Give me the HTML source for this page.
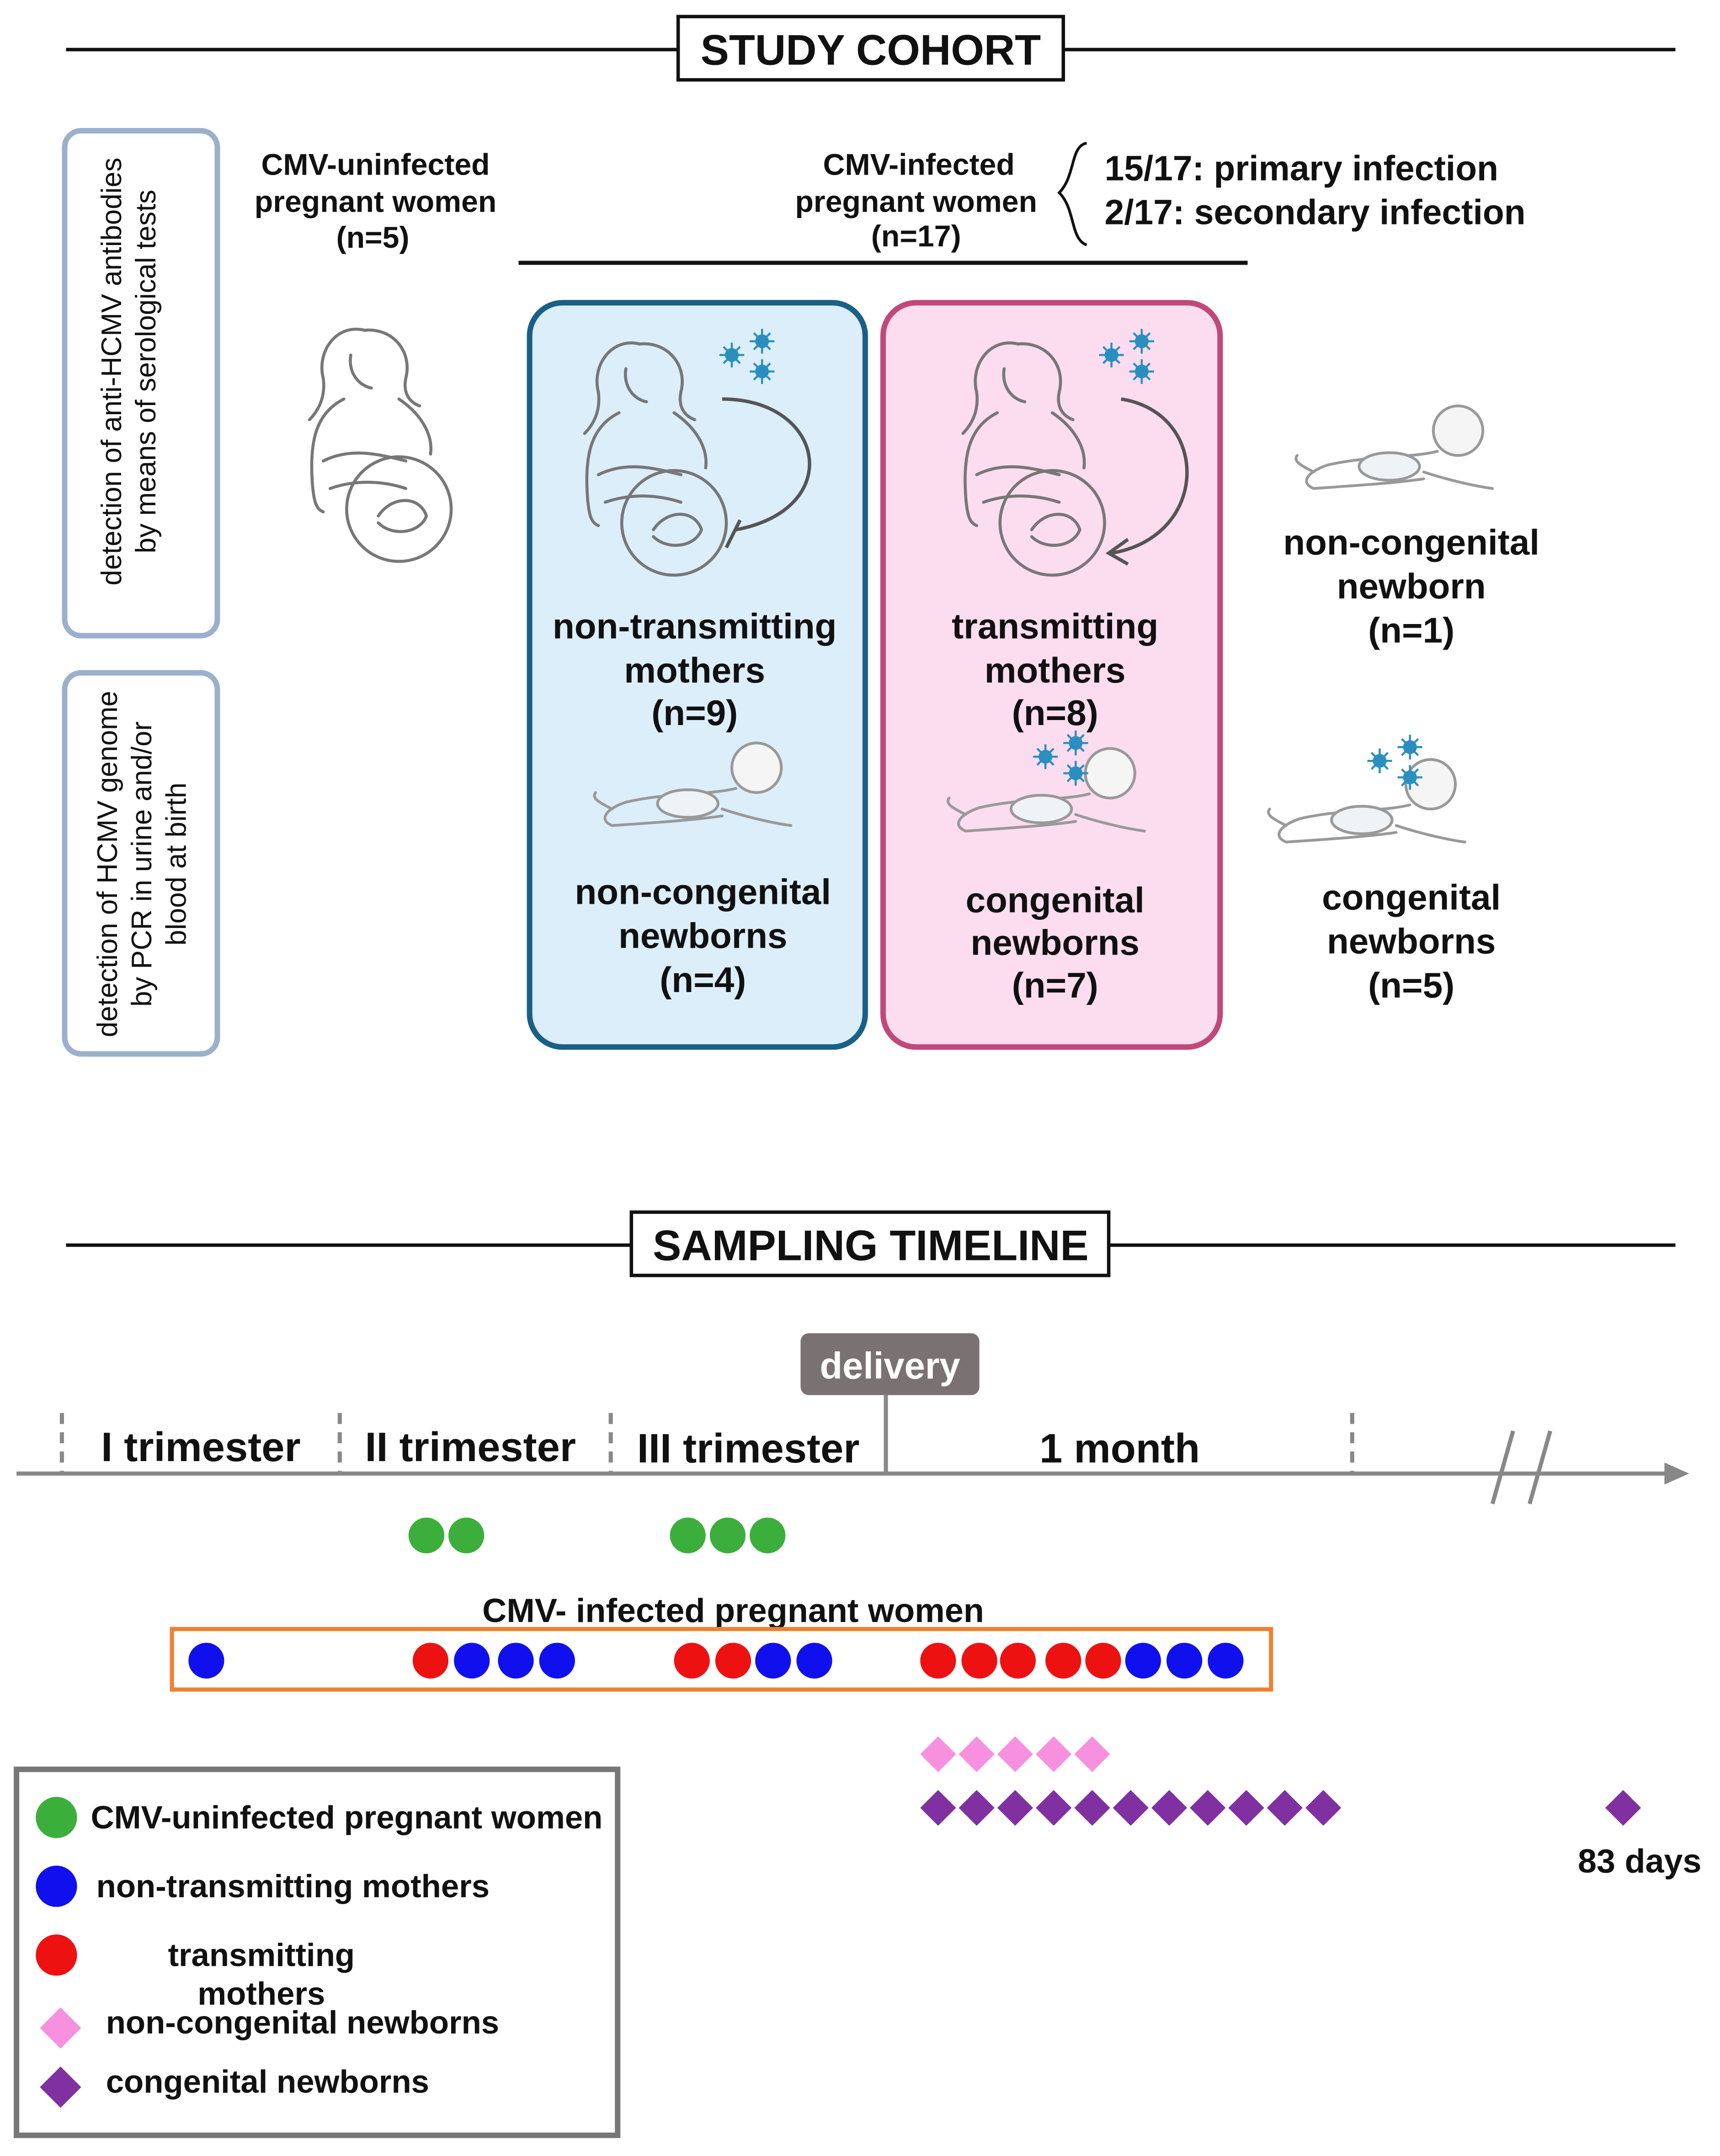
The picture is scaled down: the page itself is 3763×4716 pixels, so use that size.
<!DOCTYPE html>
<html><head><meta charset="utf-8"><style>
html,body{margin:0;padding:0;background:#fff;}
svg{display:block;}
text{font-family:"Liberation Sans",Arial,sans-serif;font-weight:bold;fill:#111;}
</style></head><body>
<svg width="3763" height="4716" viewBox="0 0 1250.4 1567" xmlns="http://www.w3.org/2000/svg">
<defs>
<g id="woman" fill="none" stroke="#777" stroke-width="2.2" stroke-linecap="round">
  <path d="M-10,-80 C-30,-85 -45,-65 -40,-45 C-38,-30 -45,-20 -50,-15"/>
  <path d="M-10,-80 C10,-82 25,-65 20,-45 C18,-35 22,-28 30,-25"/>
  <path d="M-20,-62 C-22,-50 -15,-40 -5,-38"/>
  <path d="M-25,-30 C-45,-20 -50,0 -48,30 C-47,45 -45,50 -40,52"/>
  <path d="M15,-30 C30,-20 40,-5 38,10"/>
  <circle cx="15" cy="50" r="38"/>
  <path d="M0,55 C10,40 30,40 35,55 C30,68 10,70 0,60"/>
  <path d="M-40,15 C-20,5 0,10 20,15"/>
  <path d="M-35,35 C-15,28 5,30 20,35"/>
</g>
<g id="baby" fill="none" stroke="#999" stroke-width="2" stroke-linecap="round">
  <circle cx="45" cy="-30" r="18" fill="#f5f5f5"/>
  <path d="M30,-15 C10,-10 -20,-12 -50,-5 C-65,0 -70,8 -60,12 C-30,10 0,8 20,5"/>
  <path d="M20,0 C35,5 55,10 70,12"/>
  <ellipse cx="-5" cy="-4" rx="22" ry="10" fill="#eef3f8"/>
  <path d="M-60,0 C-70,-5 -75,-8 -72,-12"/>
</g>
<g id="virus" fill="#2a8fc0">
  <circle r="5"/><g stroke="#2a8fc0" stroke-width="1.5"><line x1="-9" y1="0" x2="9" y2="0"/><line x1="0" y1="-9" x2="0" y2="9"/><line x1="-6" y1="-6" x2="6" y2="6"/><line x1="-6" y1="6" x2="6" y2="-6"/></g>
</g>
<g id="virus3"><use href="#virus" x="0" y="0"/><use href="#virus" x="22" y="-10"/><use href="#virus" x="22" y="12"/></g>
</defs>

<line x1="48" y1="36" x2="1218" y2="36" stroke="#111" stroke-width="2.5"/>
<rect x="493" y="12" width="280" height="46" fill="#fff" stroke="#111" stroke-width="2.5"/>
<text x="633" y="47" font-size="31" text-anchor="middle">STUDY COHORT</text>

<rect x="47" y="95" width="111" height="367" rx="12" fill="#fff" stroke="#9bb0cc" stroke-width="4"/>
<text transform="translate(88,270) rotate(-90)" font-size="20.5" style="font-weight:normal" text-anchor="middle">detection of anti-HCMV antibodies</text>
<text transform="translate(113,270) rotate(-90)" font-size="20.5" style="font-weight:normal" text-anchor="middle">by means of serological tests</text>
<rect x="47" y="489" width="111" height="277" rx="12" fill="#fff" stroke="#9bb0cc" stroke-width="4"/>
<text transform="translate(85,628) rotate(-90)" font-size="20.5" style="font-weight:normal" text-anchor="middle">detection of HCMV genome</text>
<text transform="translate(110,628) rotate(-90)" font-size="20.5" style="font-weight:normal" text-anchor="middle">by PCR in urine and/or</text>
<text transform="translate(135,628) rotate(-90)" font-size="20.5" style="font-weight:normal" text-anchor="middle">blood at birth</text>

<g font-size="22" text-anchor="middle">
<text x="273" y="127">CMV-uninfected</text>
<text x="273" y="154">pregnant women</text>
<text x="271" y="180">(n=5)</text>
<text x="668" y="127">CMV-infected</text>
<text x="666" y="154">pregnant women</text>
<text x="666" y="179">(n=17)</text>
</g>
<use href="#woman" x="275" y="320"/>
<path d="M790,104 C778,106 782,128 770,140 C782,152 778,174 790,178" fill="none" stroke="#111" stroke-width="2"/>
<text x="803" y="131" font-size="25.5">15/17: primary infection</text>
<text x="803" y="163" font-size="25.5">2/17: secondary infection</text>
<line x1="377" y1="191" x2="907" y2="191" stroke="#111" stroke-width="3"/>

<rect x="385" y="220" width="244" height="541" rx="24" fill="#dbeefa" stroke="#1a5f86" stroke-width="4"/>
<use href="#woman" x="475" y="330"/>
<use href="#virus3" x="532" y="258"/>
<path d="M525,290 C600,290 615,370 535,385" fill="none" stroke="#555" stroke-width="2.5"/>
<line x1="538" y1="378" x2="528" y2="398" stroke="#555" stroke-width="2.5"/>
<g font-size="26" text-anchor="middle">
<text x="505" y="464">non-transmitting</text>
<text x="505" y="496">mothers</text>
<text x="505" y="527">(n=9)</text>
<text x="511" y="657">non-congenital</text>
<text x="511" y="689">newborns</text>
<text x="511" y="721">(n=4)</text>
</g>
<use href="#baby" x="505" y="588"/>

<rect x="642" y="220" width="245" height="541" rx="24" fill="#fcdcef" stroke="#c0487a" stroke-width="4"/>
<use href="#woman" x="750" y="330"/>
<use href="#virus3" x="808" y="258"/>
<path d="M815,290 C880,300 880,390 808,402" fill="none" stroke="#555" stroke-width="2.5"/>
<path d="M820,392 L806,402 L820,410" fill="none" stroke="#555" stroke-width="2.5"/>
<g font-size="26" text-anchor="middle">
<text x="767" y="464">transmitting</text>
<text x="767" y="496">mothers</text>
<text x="767" y="527">(n=8)</text>
<text x="767" y="663">congenital</text>
<text x="767" y="694">newborns</text>
<text x="767" y="725">(n=7)</text>
</g>
<use href="#baby" x="762" y="592"/>
<use href="#virus3" x="760" y="550"/>

<use href="#baby" x="1015" y="343"/>
<use href="#baby" x="995" y="600"/>
<use href="#virus3" x="1003" y="553"/>
<g font-size="26" text-anchor="middle">
<text x="1026" y="403">non-congenital</text>
<text x="1026" y="435">newborn</text>
<text x="1026" y="467">(n=1)</text>
<text x="1026" y="661">congenital</text>
<text x="1026" y="693">newborns</text>
<text x="1026" y="725">(n=5)</text>
</g>

<line x1="48" y1="905" x2="1218" y2="905" stroke="#111" stroke-width="2.5"/>
<rect x="459" y="881" width="347" height="46" fill="#fff" stroke="#111" stroke-width="2.5"/>
<text x="633" y="916" font-size="31" text-anchor="middle">SAMPLING TIMELINE</text>

<rect x="582" y="969" width="130" height="45" rx="6" fill="#7a7272"/>
<text x="647" y="1002" font-size="27" text-anchor="middle" style="fill:#fff">delivery</text>
<line x1="644" y1="1014" x2="644" y2="1070" stroke="#888" stroke-width="3"/>

<line x1="12" y1="1071" x2="1215" y2="1071" stroke="#888" stroke-width="3"/>
<polygon points="1228,1071 1210,1063 1210,1079" fill="#888"/>
<g stroke="#888" stroke-width="3" stroke-dasharray="8,6">
<line x1="45" y1="1027" x2="45" y2="1070"/>
<line x1="247" y1="1027" x2="247" y2="1070"/>
<line x1="444" y1="1027" x2="444" y2="1070"/>
<line x1="983" y1="1027" x2="983" y2="1070"/>
</g>
<g stroke="#888" stroke-width="3"><line x1="1085" y1="1093" x2="1100" y2="1040"/><line x1="1112" y1="1093" x2="1127" y2="1040"/></g>
<g font-size="30" text-anchor="middle">
<text x="146" y="1062">I trimester</text>
<text x="342" y="1062">II trimester</text>
<text x="544" y="1063">III trimester</text>
<text x="814" y="1063">1 month</text>
</g>

<g fill="#3cae3c">
<circle cx="310" cy="1116" r="13"/><circle cx="339" cy="1116" r="13"/>
<circle cx="500" cy="1116" r="13"/><circle cx="529" cy="1116" r="13"/><circle cx="558" cy="1116" r="13"/>
</g>
<text x="533" y="1179" font-size="24.5" text-anchor="middle">CMV- infected pregnant women</text>
<rect x="125" y="1184" width="799" height="44" fill="#fff" stroke="#f08030" stroke-width="3"/>
<g fill="#1010ee">
<circle cx="150" cy="1207" r="13"/><circle cx="343" cy="1207" r="13"/><circle cx="375" cy="1207" r="13"/><circle cx="405" cy="1207" r="13"/>
<circle cx="562" cy="1207" r="13"/><circle cx="592" cy="1207" r="13"/>
<circle cx="831" cy="1207" r="13"/><circle cx="861" cy="1207" r="13"/><circle cx="891" cy="1207" r="13"/>
</g>
<g fill="#ee1111">
<circle cx="313" cy="1207" r="13"/><circle cx="503" cy="1207" r="13"/><circle cx="533" cy="1207" r="13"/>
<circle cx="682" cy="1207" r="13"/><circle cx="712" cy="1207" r="13"/><circle cx="740" cy="1207" r="13"/><circle cx="773" cy="1207" r="13"/><circle cx="802" cy="1207" r="13"/>
</g>
<g fill="#f890e0">
<polygon points="682,1262 695,1275 682,1288 669,1275"/>
<polygon points="710,1262 723,1275 710,1288 697,1275"/>
<polygon points="738,1262 751,1275 738,1288 725,1275"/>
<polygon points="766,1262 779,1275 766,1288 753,1275"/>
<polygon points="794,1262 807,1275 794,1288 781,1275"/>
</g>
<g fill="#8030a0">
<polygon points="682,1301 695,1314 682,1327 669,1314"/>
<polygon points="710,1301 723,1314 710,1327 697,1314"/>
<polygon points="738,1301 751,1314 738,1327 725,1314"/>
<polygon points="766,1301 779,1314 766,1327 753,1314"/>
<polygon points="794,1301 807,1314 794,1327 781,1314"/>
<polygon points="822,1301 835,1314 822,1327 809,1314"/>
<polygon points="850,1301 863,1314 850,1327 837,1314"/>
<polygon points="878,1301 891,1314 878,1327 865,1314"/>
<polygon points="906,1301 919,1314 906,1327 893,1314"/>
<polygon points="934,1301 947,1314 934,1327 921,1314"/>
<polygon points="962,1301 975,1314 962,1327 949,1314"/>
<polygon points="1180,1301 1193,1314 1180,1327 1167,1314"/>
</g>
<text x="1192" y="1361" font-size="24.5" text-anchor="middle">83 days</text>

<rect x="12" y="1286" width="437" height="266" fill="#fff" stroke="#777" stroke-width="4"/>
<circle cx="41" cy="1321" r="15" fill="#3cae3c"/>
<text x="66" y="1329" font-size="23.5">CMV-uninfected pregnant women</text>
<circle cx="41" cy="1371" r="15" fill="#1010ee"/>
<text x="70" y="1379" font-size="23.5">non-transmitting mothers</text>
<circle cx="41" cy="1421" r="15" fill="#ee1111"/>
<text x="190" y="1429" font-size="23.5" text-anchor="middle">transmitting</text>
<text x="190" y="1457" font-size="23.5" text-anchor="middle">mothers</text>
<polygon points="44,1459 59,1474 44,1489 29,1474" fill="#f890e0"/>
<text x="77" y="1478" font-size="23.5">non-congenital newborns</text>
<polygon points="44,1502 59,1517 44,1532 29,1517" fill="#8030a0"/>
<text x="77" y="1521" font-size="23.5">congenital newborns</text>
</svg>
</body></html>
